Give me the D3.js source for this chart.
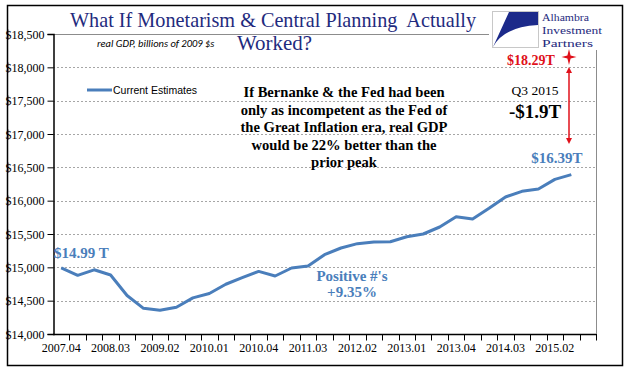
<!DOCTYPE html>
<html>
<head>
<meta charset="utf-8">
<script src="https://cdn.jsdelivr.net/npm/d3@7"></script>
<style>
  body { margin: 0; background: #fff; }
  svg { display: block; }
</style>
</head>
<body>
<div id="chart"></div>
<script>
// real GDP, billions of 2009 dollars, 2007.04 -> 2015.03
var quarters = ['2007.04',
  '2008.01','2008.02','2008.03','2008.04',
  '2009.01','2009.02','2009.03','2009.04',
  '2010.01','2010.02','2010.03','2010.04',
  '2011.01','2011.02','2011.03','2011.04',
  '2012.01','2012.02','2012.03','2012.04',
  '2013.01','2013.02','2013.03','2013.04',
  '2014.01','2014.02','2014.03','2014.04',
  '2015.01','2015.02','2015.03','2015.04'];

var gdp = [14992, 14880, 14963, 14885, 14577, 14385, 14356, 14402, 14542,
  14608, 14746, 14845, 14939, 14870, 14990, 15021, 15190, 15290, 15355,
  15381, 15384, 15458, 15500, 15605, 15760, 15725, 15885, 16055, 16140,
  16175, 16320, 16390];

var yTicks = [14000, 14500, 15000, 15500, 16000, 16500, 17000, 17500, 18000, 18500];
var labelEvery = 3;

var W = 641, H = 375;
var blue = '#4a7ebb', navy = '#1f2b7e', red = '#e0101a';
var serif = 'Liberation Serif, Times New Roman, serif';

var svg = d3.select('#chart').append('svg')
    .attr('width', W)
    .attr('height', H);

// outer frame
svg.append('rect')
  .attr('x', 7.5).attr('y', 5.5)
  .attr('width', 615).attr('height', 360)
  .attr('fill', '#fff')
  .attr('stroke', '#000')
  .attr('stroke-width', 1.5);

var x = d3.scaleBand()
    .domain(quarters)
    .range([53, 596])
    .padding(0);

var y = d3.scaleLinear()
    .domain([14000, 18500])
    .range([334, 34]);

// grid
svg.append('g')
  .selectAll('line')
  .data(yTicks.slice(1, -1))
  .enter()
  .append('line')
    .attr('x1', 53).attr('x2', 596)
    .attr('y1', function(d) { return Math.round(y(d)) + 0.5 })
    .attr('y2', function(d) { return Math.round(y(d)) + 0.5 })
    .attr('stroke', '#a6a6a6')
    .attr('stroke-dasharray', '2,2');

// plot top border (grey), right border drawn after the logo
svg.append('line')
  .attr('x1', 53).attr('x2', 489)
  .attr('y1', 34.5).attr('y2', 34.5)
  .attr('stroke', '#8c8c8c');

// y axis
var yAxis = svg.append('g')
  .attr('transform', 'translate(53.5,0)')
  .call(d3.axisLeft(y)
    .tickValues(yTicks)
    .tickSize(6)
    .tickPadding(3)
    .tickFormat(d3.format('$,')));

yAxis.select('.domain').attr('stroke', '#000').attr('stroke-width', 1.5);
yAxis.selectAll('.tick line').attr('stroke', '#000');
yAxis.selectAll('text')
  .attr('font-family', serif)
  .attr('font-size', '12px')
  .attr('fill', '#000')
  .attr('dy', '0.35em');

// x axis: ticks on category boundaries, labels every 3rd quarter
var xg = svg.append('g')
  .attr('transform', 'translate(0,334.5)');

xg.append('line')
  .attr('x1', 53).attr('x2', 597)
  .attr('stroke', '#000').attr('stroke-width', 1.5);

xg.selectAll('.qtick')
  .data(quarters)
  .enter()
  .append('line')
    .attr('class', 'qtick')
    .attr('x1', function(d) { return Math.round(x(d) + x.bandwidth()) + 0.5 })
    .attr('x2', function(d) { return Math.round(x(d) + x.bandwidth()) + 0.5 })
    .attr('y1', 0).attr('y2', 6)
    .attr('stroke', '#000');

xg.selectAll('.qlabel')
  .data(quarters.filter(function(d, i) { return i % labelEvery == 0 }))
  .enter()
  .append('text')
    .attr('x', function(d) { return x(d) + x.bandwidth() / 2 })
    .attr('y', 17)
    .attr('text-anchor', 'middle')
    .attr('font-family', serif)
    .attr('font-size', '12px')
    .text(function(d) { return d });

// the line
var line = d3.line()
  .x(function(d, i) { return x(quarters[i]) + x.bandwidth() / 2 })
  .y(function(d) { return y(d) });

svg.append('path')
  .datum(gdp)
  .attr('d', line)
  .attr('fill', 'none')
  .attr('stroke', blue)
  .attr('stroke-width', 3)
  .attr('stroke-linejoin', 'round');

// title block
svg.append('text')
  .attr('x', 70).attr('y', 27)
  .attr('font-family', serif)
  .attr('font-size', '21px')
  .attr('fill', navy)
  .attr('textLength', 406)
  .attr('lengthAdjust', 'spacingAndGlyphs')
  .attr('xml:space', 'preserve')
  .text('What If Monetarism & Central Planning  Actually');

svg.append('text')
  .attr('x', 237).attr('y', 50)
  .attr('font-family', serif)
  .attr('font-size', '21px')
  .attr('fill', navy)
  .attr('textLength', 75)
  .attr('lengthAdjust', 'spacingAndGlyphs')
  .text('Worked?');

svg.append('text')
  .attr('x', 97).attr('y', 47)
  .attr('font-family', 'Carlito, Liberation Sans, Arial, sans-serif')
  .attr('font-style', 'italic')
  .attr('font-size', '10.5px')
  .attr('fill', '#000')
  .text('real GDP, billions of 2009 $s');

// logo
var logo = svg.append('g');
logo.append('rect')
  .attr('x', 492.5).attr('y', 11.5)
  .attr('width', 46).attr('height', 36)
  .attr('fill', '#fff')
  .attr('stroke', '#c8c8c8');
logo.append('path')
  .attr('d', 'M538,12 L509,12 L493,47 Q503,27 538,25 Z')
  .attr('fill', '#1c2a8a');
logo.selectAll('text')
  .data(['Alhambra', 'Investment', 'Partners'])
  .enter()
  .append('text')
    .attr('x', 542)
    .attr('y', function(d, i) { return 21 + i * 13 })
    .attr('font-family', serif)
    .attr('font-size', '11px')
    .attr('fill', navy)
    .attr('textLength', function(d, i) { return [47, 60, 51][i] })
    .attr('lengthAdjust', 'spacingAndGlyphs')
    .text(function(d) { return d });

svg.append('line')
  .attr('x1', 596.5).attr('x2', 596.5)
  .attr('y1', 50).attr('y2', 334)
  .attr('stroke', '#8c8c8c');

// legend
svg.append('line')
  .attr('x1', 87).attr('x2', 112)
  .attr('y1', 90).attr('y2', 90)
  .attr('stroke', blue)
  .attr('stroke-width', 3);
svg.append('text')
  .attr('x', 113).attr('y', 94)
  .attr('font-family', 'Liberation Sans, Arial, sans-serif')
  .attr('font-size', '10.5px')
  .text('Current Estimates');

// main commentary
var note = ['If Bernanke & the Fed had been',
  'only as incompetent as the Fed of',
  'the Great Inflation era, real GDP',
  'would be 22% better than the',
  'prior peak'];

svg.append('g')
  .selectAll('text')
  .data(note)
  .enter()
  .append('text')
    .attr('x', 344)
    .attr('y', function(d, i) { return 97 + i * 17.5 })
    .attr('text-anchor', 'middle')
    .attr('font-family', serif)
    .attr('font-weight', 'bold')
    .attr('font-size', '14.6px')
    .text(function(d) { return d });

// Q3 2015 gap
svg.append('text')
  .attr('x', 535).attr('y', 95)
  .attr('text-anchor', 'middle')
  .attr('font-family', serif)
  .attr('font-size', '13.5px')
  .text('Q3 2015');
svg.append('text')
  .attr('x', 535).attr('y', 118)
  .attr('text-anchor', 'middle')
  .attr('font-family', serif)
  .attr('font-weight', 'bold')
  .attr('font-size', '19px')
  .text('-$1.9T');

// red target + arrow
svg.append('text')
  .attr('x', 531).attr('y', 65)
  .attr('text-anchor', 'middle')
  .attr('font-family', serif)
  .attr('font-weight', 'bold')
  .attr('font-size', '14px')
  .attr('fill', red)
  .text('$18.29T');

var sx = 569, sy = 57;
svg.append('path')
  .attr('d', 'M' + sx + ',' + (sy - 8) + ' L' + (sx + 1.6) + ',' + (sy - 1.6) +
    ' L' + (sx + 7.5) + ',' + sy + ' L' + (sx + 1.6) + ',' + (sy + 1.6) +
    ' L' + sx + ',' + (sy + 8) + ' L' + (sx - 1.6) + ',' + (sy + 1.6) +
    ' L' + (sx - 7.5) + ',' + sy + ' L' + (sx - 1.6) + ',' + (sy - 1.6) + ' Z')
  .attr('fill', red);

svg.append('line')
  .attr('x1', sx).attr('x2', sx)
  .attr('y1', 72).attr('y2', 139)
  .attr('stroke', red)
  .attr('stroke-width', 1.5);
svg.append('path')
  .attr('d', 'M' + (sx - 3) + ',73 L' + sx + ',67 L' + (sx + 3) + ',73 Z')
  .attr('fill', red);
svg.append('path')
  .attr('d', 'M' + (sx - 3) + ',138 L' + sx + ',144 L' + (sx + 3) + ',138 Z')
  .attr('fill', red);

// blue value labels
svg.append('text')
  .attr('x', 54).attr('y', 258)
  .attr('font-family', serif)
  .attr('font-weight', 'bold')
  .attr('font-size', '15px')
  .attr('fill', blue)
  .text('$14.99 T');

svg.append('text')
  .attr('x', 557).attr('y', 163)
  .attr('text-anchor', 'middle')
  .attr('font-family', serif)
  .attr('font-weight', 'bold')
  .attr('font-size', '15px')
  .attr('fill', blue)
  .text('$16.39T');

svg.append('g')
  .selectAll('text')
  .data(["Positive #'s", '+9.35%'])
  .enter()
  .append('text')
    .attr('x', 352)
    .attr('y', function(d, i) { return 281 + i * 16 })
    .attr('text-anchor', 'middle')
    .attr('font-family', serif)
    .attr('font-weight', 'bold')
    .attr('font-size', '15px')
    .attr('fill', blue)
    .text(function(d) { return d });
</script>
</body>
</html>
